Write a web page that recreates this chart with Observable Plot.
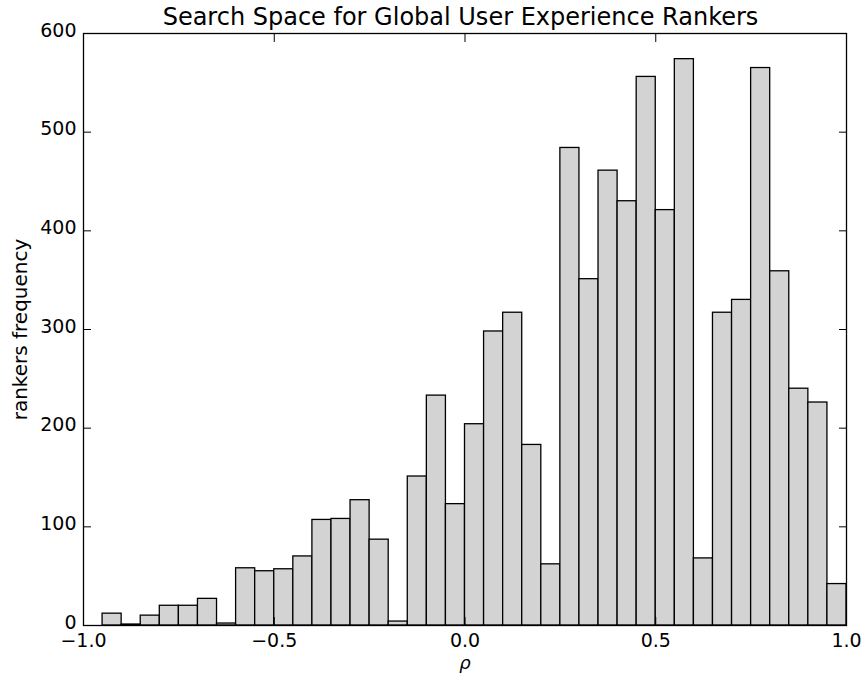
<!DOCTYPE html>
<html>
<head>
<meta charset="utf-8">
<script src="https://cdn.jsdelivr.net/npm/d3@7"></script>
<script src="https://cdn.jsdelivr.net/npm/@observablehq/plot@0.6"></script>
<style>
  html, body { margin: 0; padding: 0; background: white; }
  #title {
    box-sizing: border-box;
    width: 861px; height: 31px;
    padding-top: 3px; padding-left: 60px;
    font-family: "DejaVu Sans", sans-serif;
    font-size: 24px; line-height: 28px;
    text-align: center; color: black;
    white-space: nowrap;
  }
  #chart svg { overflow: visible; }
</style>
</head>
<body>
<div id="title">Search Space for Global User Experience Rankers</div>
<div id="chart"></div>
<script>
// Histogram bin edges (rho) and ranker counts per bin
const binEdges = [
  -0.95, -0.90, -0.85, -0.80, -0.75, -0.70, -0.65, -0.60, -0.55, -0.50,
  -0.45, -0.40, -0.35, -0.30, -0.25, -0.20, -0.15, -0.10, -0.05, 0.00,
   0.05,  0.10,  0.15,  0.20,  0.25,  0.30,  0.35,  0.40,  0.45, 0.50,
   0.55,  0.60,  0.65,  0.70,  0.75,  0.80,  0.85,  0.90,  0.95, 1.00
];
const counts = [
  12, 1, 10, 20, 20, 27, 2, 58, 55, 57,
  70, 107, 108, 127, 87, 4, 151, 233, 123, 204,
  298, 317, 183, 62, 484, 351, 461, 430, 556, 421,
  574, 68, 317, 330, 565, 359, 240, 226, 42
];
const xTicks = [-1.0, -0.5, 0.0, 0.5, 1.0];
const yTicks = [0, 100, 200, 300, 400, 500, 600];
const xLabel = "ρ";
const yLabel = "rankers frequency";

const bins = counts.map((c, i) => ({x1: binEdges[i], x2: binEdges[i + 1], count: c}));

const chart = Plot.plot({
  width: 861,
  height: 646,
  marginTop: 2,
  marginBottom: 52,
  marginLeft: 83,
  marginRight: 15,
  x: {domain: [-1, 1]},
  y: {domain: [0, 600]},
  style: {
    fontFamily: "DejaVu Sans, sans-serif",
    fontSize: "19px",
    color: "black",
    background: "white",
    overflow: "visible"
  },
  marks: [
    Plot.rectY(bins, {x1: "x1", x2: "x2", y: "count", fill: "#d3d3d3", stroke: "black", strokeWidth: 1.3, inset: 0}),
    Plot.frame({stroke: "black", strokeWidth: 1.3}),
    // tick labels
    Plot.axisX(xTicks, {anchor: "bottom", tickSize: 0, tickPadding: 8, tickFormat: d3.format(".1f"), label: null}),
    Plot.axisY(yTicks, {anchor: "left", tickSize: 0, tickPadding: 7, dy: -3, tickFormat: d3.format("d"), label: null}),
    // inward tick marks on all four sides
    Plot.axisX(xTicks, {anchor: "bottom", tickSize: -8, text: null, label: null, strokeWidth: 1}),
    Plot.axisX(xTicks, {anchor: "top", tickSize: -8, text: null, label: null, strokeWidth: 1}),
    Plot.axisY(yTicks, {anchor: "left", tickSize: -8, text: null, label: null, strokeWidth: 1}),
    Plot.axisY(yTicks, {anchor: "right", tickSize: -8, text: null, label: null, strokeWidth: 1}),
    // axis titles
    Plot.text([xLabel], {text: d => d, frameAnchor: "bottom", dy: 43, fontStyle: "italic", fontSize: 18}),
    Plot.text([yLabel], {text: d => d, frameAnchor: "left", textAnchor: "middle", dx: -63, rotate: -90, fontSize: 20})
  ]
});

document.getElementById("chart").appendChild(chart);
</script>
</body>
</html>
